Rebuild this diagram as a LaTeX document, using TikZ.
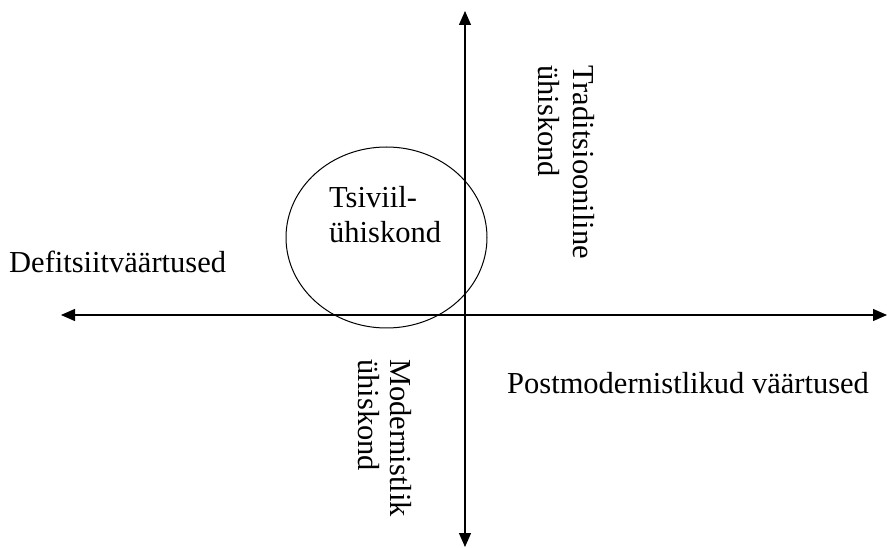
\documentclass[tikz,border=0pt]{standalone}
\usepackage{fontspec}
\setmainfont{Liberation Serif}
\usetikzlibrary{arrows.meta,shapes.geometric}
\begin{document}
\begin{tikzpicture}[x=1pt,y=-1pt,
  tip/.tip={Triangle[length=14pt,width=12pt]},
  axis/.style={line width=1.3pt, tip-tip},
  lbl/.style={font=\fontsize{30.5}{35}\selectfont, inner sep=0pt, align=left},
]
\useasboundingbox (0,0) rectangle (887,548);
\coordinate (top) at (465,11);
\coordinate (bottom) at (465,547);
\coordinate (left) at (61,315);
\coordinate (right) at (887,315);
\draw[axis] (bottom) -- (top);
\draw[axis] (left) -- (right);
\node[ellipse, draw, line width=1pt, minimum width=201pt, minimum height=181pt, inner sep=0pt] (civ) at (386.5,237.5) {};
\node[lbl, anchor=north west] (civtext) at (329,186) {Tsiviil-\\ühiskond};
\node[lbl, anchor=base west] (defits) at (9,273) {Defitsiitväärtused};
\node[lbl, anchor=base west] (postmod) at (507,393) {Postmodernistlikud väärtused};
\node[lbl, anchor=north west, rotate=-90] (trad) at (595,65) {Traditsiooniline\\ühiskond};
\node[lbl, anchor=north west, rotate=-90, font=\fontsize{30.5}{32}\selectfont] (modern) at (412,359) {Modernistlik\\ühiskond};
\end{tikzpicture}
\end{document}
